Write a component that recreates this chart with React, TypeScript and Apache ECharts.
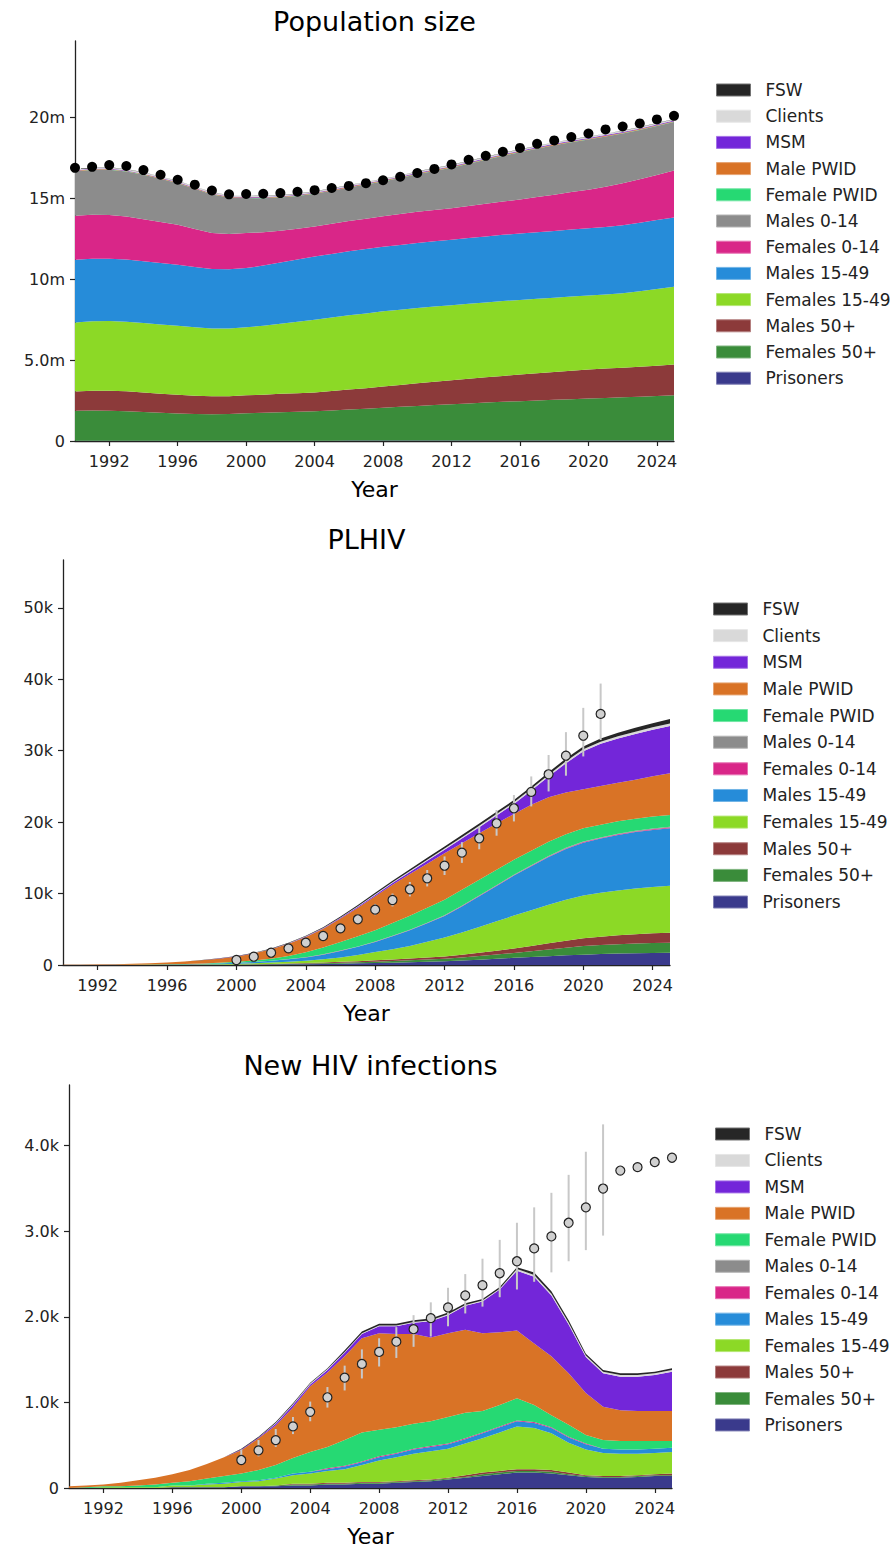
import React, { useEffect, useRef } from "react";
import * as echarts from "echarts";

const FONT = "DejaVu Sans";

const YEARS = [
  1990, 1991, 1992, 1993, 1994, 1995, 1996, 1997, 1998, 1999,
  2000, 2001, 2002, 2003, 2004, 2005, 2006, 2007, 2008, 2009,
  2010, 2011, 2012, 2013, 2014, 2015, 2016, 2017, 2018, 2019,
  2020, 2021, 2022, 2023, 2024, 2025,
];
const X_TICKS = [1992, 1996, 2000, 2004, 2008, 2012, 2016, 2020, 2024];

// stacking order, bottom to top
const GROUPS = [
  "Prisoners", "Females 50+", "Males 50+", "Females 15-49", "Males 15-49",
  "Females 0-14", "Males 0-14", "Female PWID", "Male PWID", "MSM", "Clients", "FSW",
];
const LEGEND_ORDER = [...GROUPS].reverse();
const COLORS: Record<string, string> = {
  FSW: "#262626",
  Clients: "#d9d9d9",
  MSM: "#7326d9",
  "Male PWID": "#d97326",
  "Female PWID": "#26d973",
  "Males 0-14": "#8c8c8c",
  "Females 0-14": "#d92688",
  "Males 15-49": "#268cd9",
  "Females 15-49": "#8cd926",
  "Males 50+": "#8c3a3a",
  "Females 50+": "#3a8c3a",
  Prisoners: "#3a3a8c",
};

// ---------- Population size (millions) ----------
const popPrisoners = [0.02,0.02,0.02,0.02,0.02,0.02,0.02,0.02,0.02,0.02,0.02,0.02,0.02,0.02,0.02,0.02,0.03,0.03,0.03,0.03,0.03,0.03,0.03,0.03,0.03,0.03,0.03,0.03,0.03,0.03,0.03,0.03,0.03,0.03,0.03,0.03];
const popFemales50 = [1.85,1.86,1.85,1.82,1.77,1.72,1.68,1.65,1.63,1.65,1.69,1.72,1.75,1.78,1.81,1.86,1.91,1.96,2.02,2.08,2.13,2.19,2.24,2.29,2.34,2.39,2.43,2.47,2.51,2.55,2.59,2.63,2.67,2.71,2.75,2.8];
const popMales50 = [1.19,1.22,1.24,1.23,1.21,1.18,1.16,1.13,1.11,1.1,1.11,1.12,1.14,1.15,1.17,1.2,1.24,1.27,1.31,1.35,1.4,1.44,1.48,1.52,1.56,1.6,1.64,1.68,1.72,1.76,1.79,1.81,1.83,1.85,1.87,1.89];
const popFemales1549 = [4.26,4.29,4.3,4.3,4.29,4.28,4.26,4.22,4.19,4.18,4.2,4.26,4.33,4.41,4.49,4.54,4.58,4.62,4.65,4.65,4.65,4.64,4.63,4.63,4.62,4.62,4.61,4.6,4.59,4.58,4.57,4.58,4.6,4.66,4.73,4.8];
const popMales1549 = [3.87,3.86,3.84,3.83,3.81,3.79,3.76,3.72,3.67,3.65,3.66,3.71,3.78,3.85,3.91,3.93,3.95,3.97,3.98,4.0,4.02,4.04,4.05,4.06,4.08,4.09,4.1,4.11,4.12,4.14,4.15,4.17,4.2,4.23,4.26,4.28];
const popFemales014 = [2.72,2.72,2.7,2.66,2.6,2.54,2.47,2.35,2.22,2.18,2.16,2.06,1.96,1.89,1.85,1.86,1.87,1.88,1.89,1.9,1.92,1.93,1.95,1.98,2.02,2.06,2.1,2.17,2.24,2.31,2.39,2.48,2.58,2.68,2.79,2.9];
const popMales014 = [2.74,2.77,2.8,2.78,2.74,2.66,2.57,2.48,2.38,2.25,2.16,2.1,2.06,2.03,2.02,2.04,2.07,2.11,2.15,2.23,2.32,2.41,2.5,2.61,2.72,2.83,2.92,2.99,3.05,3.08,3.1,3.1,3.08,3.05,3.02,3.0];
const popFemalePWID = [0.01,0.01,0.01,0.01,0.01,0.01,0.01,0.01,0.01,0.01,0.01,0.01,0.01,0.01,0.01,0.01,0.01,0.01,0.01,0.01,0.01,0.01,0.01,0.01,0.01,0.01,0.01,0.01,0.01,0.01,0.01,0.01,0.01,0.01,0.01,0.01];
const popMalePWID = [0.03,0.03,0.03,0.03,0.03,0.03,0.03,0.03,0.03,0.03,0.03,0.03,0.03,0.03,0.03,0.03,0.04,0.04,0.04,0.04,0.04,0.04,0.04,0.04,0.04,0.04,0.04,0.04,0.04,0.04,0.04,0.04,0.04,0.04,0.04,0.04];
const popMSM = [0.03,0.03,0.03,0.03,0.03,0.03,0.03,0.03,0.03,0.03,0.03,0.03,0.03,0.03,0.03,0.03,0.03,0.03,0.03,0.03,0.04,0.04,0.04,0.04,0.04,0.04,0.04,0.04,0.04,0.04,0.04,0.04,0.04,0.04,0.04,0.04];
const popClients = [0.07,0.07,0.07,0.07,0.07,0.07,0.07,0.07,0.07,0.07,0.07,0.07,0.07,0.07,0.07,0.07,0.07,0.07,0.07,0.07,0.08,0.08,0.08,0.08,0.08,0.08,0.08,0.08,0.08,0.08,0.08,0.08,0.08,0.08,0.08,0.08];
const popFSW = [0.01,0.01,0.01,0.01,0.01,0.01,0.01,0.01,0.01,0.01,0.01,0.01,0.01,0.01,0.01,0.01,0.01,0.01,0.01,0.01,0.01,0.01,0.01,0.01,0.01,0.01,0.01,0.01,0.01,0.01,0.01,0.01,0.01,0.01,0.01,0.01];
const popObserved = [16.87,16.93,17.04,16.98,16.73,16.44,16.13,15.83,15.47,15.23,15.25,15.27,15.31,15.39,15.49,15.62,15.75,15.92,16.1,16.32,16.55,16.8,17.08,17.36,17.61,17.86,18.1,18.35,18.56,18.77,18.99,19.24,19.42,19.61,19.86,20.08];
const POP_TICKS = [0, 5, 10, 15, 20];

// ---------- PLHIV (thousands) ----------
const plhivPrisoners = [0,0,0,0,0.01,0.01,0.01,0.02,0.02,0.03,0.04,0.05,0.07,0.09,0.12,0.15,0.19,0.23,0.28,0.33,0.39,0.45,0.52,0.62,0.74,0.87,1.0,1.12,1.24,1.35,1.45,1.53,1.6,1.65,1.69,1.72];
const plhivFemales50 = [0,0,0,0,0,0,0.01,0.01,0.01,0.01,0.02,0.03,0.04,0.06,0.08,0.1,0.13,0.16,0.19,0.23,0.27,0.31,0.36,0.44,0.52,0.6,0.69,0.81,0.94,1.07,1.2,1.26,1.31,1.35,1.38,1.4];
const plhivMales50 = [0,0,0,0,0,0,0.01,0.01,0.01,0.01,0.02,0.03,0.04,0.06,0.08,0.1,0.12,0.15,0.18,0.21,0.25,0.28,0.32,0.39,0.46,0.54,0.63,0.74,0.85,0.97,1.08,1.16,1.24,1.31,1.36,1.4];
const plhivFemales1549 = [0,0,0,0.01,0.01,0.02,0.02,0.03,0.05,0.07,0.1,0.14,0.19,0.25,0.32,0.45,0.62,0.85,1.17,1.45,1.75,2.2,2.65,3.1,3.6,4.1,4.6,5.0,5.4,5.75,6.0,6.15,6.28,6.4,6.5,6.58];
const plhivMales1549 = [0,0,0.01,0.01,0.01,0.02,0.03,0.04,0.06,0.08,0.12,0.17,0.24,0.34,0.46,0.65,0.9,1.15,1.4,1.8,2.2,2.6,3.0,3.65,4.3,4.95,5.6,6.15,6.7,7.1,7.4,7.6,7.78,7.9,7.98,8.04];
const plhivFemales014 = [0,0,0,0,0,0,0,0,0.01,0.01,0.01,0.01,0.01,0.02,0.02,0.02,0.03,0.03,0.03,0.04,0.04,0.04,0.05,0.05,0.06,0.06,0.06,0.07,0.07,0.08,0.08,0.08,0.09,0.09,0.1,0.1];
const plhivMales014 = [0,0,0,0,0,0,0,0,0.01,0.01,0.01,0.01,0.01,0.02,0.02,0.02,0.03,0.03,0.03,0.04,0.04,0.04,0.05,0.05,0.06,0.06,0.06,0.07,0.07,0.08,0.08,0.08,0.09,0.09,0.1,0.1];
const plhivFemalePWID = [0,0,0,0,0.01,0.01,0.02,0.03,0.05,0.08,0.13,0.19,0.28,0.42,0.7,0.95,1.2,1.42,1.6,1.78,1.95,2.1,2.2,2.22,2.2,2.15,2.1,2.04,1.97,1.9,1.84,1.78,1.74,1.7,1.68,1.66];
const plhivMalePWID = [0.02,0.04,0.06,0.09,0.13,0.19,0.25,0.34,0.43,0.59,0.74,0.99,1.32,1.7,2.12,2.63,3.28,3.99,4.73,5.34,5.84,6.17,6.5,6.54,6.5,6.49,6.41,6.42,6.25,5.85,5.49,5.42,5.38,5.45,5.64,5.84];
const plhivMSM = [0,0,0,0,0,0,0,0.01,0.01,0.01,0.02,0.02,0.03,0.04,0.06,0.08,0.11,0.15,0.2,0.25,0.3,0.4,0.5,0.65,0.85,1.1,1.4,2.0,2.9,4.1,5.3,5.9,6.2,6.4,6.5,6.63];
const plhivClients = [0,0,0,0,0,0,0,0,0.01,0.01,0.01,0.02,0.02,0.03,0.03,0.04,0.05,0.07,0.09,0.11,0.13,0.15,0.17,0.19,0.2,0.21,0.22,0.24,0.25,0.27,0.28,0.3,0.31,0.33,0.34,0.35];
const plhivFSW = [0,0,0,0,0,0,0.01,0.01,0.02,0.02,0.03,0.04,0.05,0.07,0.09,0.11,0.14,0.17,0.2,0.22,0.24,0.26,0.28,0.3,0.31,0.32,0.33,0.34,0.36,0.38,0.4,0.44,0.48,0.53,0.58,0.63];
const plhivDataYears = [2000,2001,2002,2003,2004,2005,2006,2007,2008,2009,2010,2011,2012,2013,2014,2015,2016,2017,2018,2019,2020,2021];
const plhivObserved = [0.7,1.16,1.72,2.33,3.13,4.06,5.13,6.4,7.75,9.1,10.6,12.14,13.9,15.73,17.74,19.84,21.94,24.23,26.7,29.3,32.1,35.15];
const plhivLow = [0.6,1.0,1.5,2.05,2.78,3.62,4.6,5.75,6.98,8.2,9.6,11.0,12.6,14.3,16.2,18.1,20.1,22.2,24.3,26.5,29.2,31.5];
const plhivHigh = [0.8,1.32,1.95,2.62,3.5,4.52,5.7,7.08,8.55,10.0,11.62,13.3,15.2,17.2,19.35,21.7,23.8,26.4,29.4,32.6,36.0,39.4];
const PLHIV_TICKS = [0, 10, 20, 30, 40, 50];

// ---------- New HIV infections (thousands) ----------
const infPrisoners = [0,0,0,0,0,0,0.01,0.01,0.01,0.01,0.02,0.02,0.02,0.03,0.03,0.04,0.04,0.05,0.05,0.06,0.07,0.08,0.1,0.12,0.14,0.16,0.18,0.18,0.17,0.15,0.13,0.12,0.12,0.13,0.14,0.14];
const infFemales50 = [0,0,0,0,0,0,0,0,0,0,0,0,0.01,0.01,0.01,0.01,0.01,0.01,0.01,0.01,0.01,0.01,0.01,0.01,0.02,0.02,0.02,0.02,0.02,0.01,0.01,0.01,0.01,0.01,0.01,0.01];
const infMales50 = [0,0,0,0,0,0,0,0,0,0,0,0,0,0.01,0.01,0.01,0.01,0.01,0.01,0.01,0.01,0.01,0.01,0.02,0.02,0.02,0.02,0.02,0.02,0.02,0.01,0.01,0.01,0.01,0.01,0.02];
const infFemales1549 = [0,0,0.01,0.01,0.01,0.01,0.02,0.02,0.03,0.04,0.05,0.06,0.08,0.1,0.12,0.14,0.16,0.2,0.25,0.28,0.31,0.33,0.34,0.37,0.4,0.45,0.5,0.48,0.43,0.35,0.3,0.27,0.26,0.25,0.25,0.25];
const infMales1549 = [0,0,0,0,0,0,0,0,0.01,0.01,0.01,0.01,0.01,0.02,0.02,0.02,0.03,0.03,0.04,0.04,0.05,0.05,0.05,0.05,0.06,0.06,0.06,0.06,0.06,0.06,0.06,0.05,0.05,0.05,0.05,0.05];
const infFemales014 = [0,0,0,0,0,0,0,0,0,0,0,0,0,0,0,0.01,0.01,0.01,0.01,0.01,0.01,0.01,0.01,0.01,0.01,0.01,0.01,0.01,0.01,0.01,0.01,0,0,0,0,0];
const infMales014 = [0,0,0,0,0,0,0,0,0,0,0,0,0,0,0,0,0,0,0,0,0,0,0,0,0,0,0,0,0,0,0,0,0,0,0,0];
const infFemalePWID = [0,0.01,0.01,0.01,0.02,0.03,0.03,0.05,0.06,0.08,0.09,0.12,0.15,0.18,0.23,0.25,0.3,0.34,0.31,0.3,0.29,0.29,0.31,0.3,0.25,0.25,0.26,0.2,0.14,0.14,0.1,0.1,0.1,0.1,0.09,0.08];
const infMalePWID = [0.02,0.02,0.02,0.04,0.06,0.08,0.1,0.13,0.17,0.22,0.27,0.37,0.46,0.59,0.77,0.87,0.98,1.1,1.13,1.09,1.05,0.98,0.98,0.97,0.91,0.85,0.79,0.72,0.69,0.6,0.49,0.39,0.36,0.35,0.35,0.35];
const infMSM = [0,0,0,0,0,0,0,0,0,0,0.01,0.01,0.02,0.03,0.02,0.03,0.04,0.05,0.08,0.09,0.13,0.19,0.21,0.28,0.37,0.5,0.7,0.78,0.71,0.57,0.42,0.39,0.39,0.4,0.42,0.46];
const infClients = [0,0,0,0,0,0,0,0,0,0,0,0,0.01,0.01,0.01,0.01,0.01,0.01,0.01,0.01,0.01,0.01,0.01,0.01,0.01,0.01,0.02,0.02,0.02,0.02,0.02,0.02,0.02,0.02,0.02,0.02];
const infFSW = [0,0,0,0,0,0,0,0,0,0,0.01,0.01,0.01,0.01,0.01,0.01,0.02,0.02,0.02,0.02,0.02,0.02,0.02,0.02,0.02,0.02,0.02,0.03,0.03,0.03,0.02,0.02,0.02,0.02,0.02,0.02];
const infDataYears = [2000,2001,2002,2003,2004,2005,2006,2007,2008,2009,2010,2011,2012,2013,2014,2015,2016,2017,2018,2019,2020,2021,2022,2023,2024,2025];
const infObserved = [0.327,0.44,0.56,0.72,0.89,1.06,1.29,1.45,1.59,1.71,1.856,1.985,2.11,2.25,2.37,2.51,2.65,2.8,2.94,3.1,3.28,3.5,3.71,3.75,3.81,3.86];
const infBarYears = [2000,2001,2002,2003,2004,2005,2006,2007,2008,2009,2010,2011,2012,2013,2014,2015,2016,2017,2018,2019,2020,2021];
const infLow = [0.27,0.37,0.48,0.63,0.78,0.94,1.14,1.28,1.42,1.52,1.65,1.77,1.89,2.04,2.12,2.23,2.32,2.41,2.52,2.65,2.78,2.95];
const infHigh = [0.45,0.56,0.69,0.83,1.01,1.18,1.43,1.62,1.75,1.88,2.02,2.17,2.34,2.5,2.68,2.9,3.1,3.28,3.45,3.66,3.93,4.25];
const INF_TICKS = [0, 1, 2, 3, 4];

const POP_STACK = [popPrisoners, popFemales50, popMales50, popFemales1549, popMales1549, popFemales014, popMales014, popFemalePWID, popMalePWID, popMSM, popClients, popFSW];
const PLHIV_STACK = [plhivPrisoners, plhivFemales50, plhivMales50, plhivFemales1549, plhivMales1549, plhivFemales014, plhivMales014, plhivFemalePWID, plhivMalePWID, plhivMSM, plhivClients, plhivFSW];
const INF_STACK = [infPrisoners, infFemales50, infMales50, infFemales1549, infMales1549, infFemales014, infMales014, infFemalePWID, infMalePWID, infMSM, infClients, infFSW];

const CATS = YEARS.map(String);

function tint(hex: string, f: number) {
  const n = parseInt(hex.slice(1), 16);
  const r = (n >> 16) & 255, g = (n >> 8) & 255, b = n & 255;
  const m = (c: number) => Math.round(c + (255 - c) * f);
  return `rgb(${m(r)},${m(g)},${m(b)})`;
}

function areaSeries(panel: number, stackId: string, values: number[][]) {
  return GROUPS.map((g, k) => ({
    name: g,
    type: "line",
    xAxisIndex: panel,
    yAxisIndex: panel,
    stack: stackId,
    data: values[k],
    showSymbol: false,
    symbol: "none",
    smooth: false,
    color: COLORS[g],
    lineStyle: { width: 0, color: COLORS[g] },
    itemStyle: { color: COLORS[g] },
    areaStyle: { color: COLORS[g], opacity: 1 },
    emphasis: { disabled: true },
    silent: true,
    z: 2,
  }));
}

function errorBars(panel: number, years: number[], lo: number[], hi: number[]) {
  return {
    type: "custom",
    name: "err" + panel,
    xAxisIndex: panel,
    yAxisIndex: panel,
    z: 3,
    silent: true,
    clip: false,
    data: years.map((y, i) => [String(y), lo[i], hi[i]]),
    encode: { x: 0, y: [1, 2] },
    renderItem: (_params: any, api: any) => {
      const a = api.coord([api.value(0), api.value(1)]);
      const b = api.coord([api.value(0), api.value(2)]);
      return {
        type: "line",
        shape: { x1: a[0], y1: a[1], x2: b[0], y2: b[1] },
        style: { stroke: "#c8c8c8", lineWidth: 2 },
      };
    },
  };
}

function points(panel: number, years: number[], vals: number[], filled: boolean) {
  return {
    type: "scatter",
    name: "data" + panel,
    xAxisIndex: panel,
    yAxisIndex: panel,
    z: 4,
    silent: true,
    clip: false,
    symbolSize: filled ? 10 : 9,
    itemStyle: filled
      ? { color: "#000000", opacity: 1 }
      : { color: "#d0d0d0", borderColor: "#222222", borderWidth: 1.2, opacity: 1 },
    data: years.map((y, i) => [String(y), vals[i]]),
  };
}

const GRIDS = [
  { left: 75, top: 41, width: 599, height: 400 },
  { left: 63, top: 560, width: 607, height: 405 },
  { left: 69, top: 1085, width: 603, height: 403 },
];
const TITLES = [
  { text: "Population size", top: 8 },
  { text: "PLHIV", top: 526 },
  { text: "New HIV infections", top: 1052 },
];
const LEGEND_POS = [
  { left: 716, top: 80, gap: 6.2 },
  { left: 713, top: 599, gap: 6.64 },
  { left: 715, top: 1124, gap: 6.45 },
];

const isTick = (_i: number, v: string) => X_TICKS.includes(Number(v));

function xAxis(panel: number) {
  return {
    type: "category",
    gridIndex: panel,
    data: CATS,
    boundaryGap: false,
    name: "Year",
    nameLocation: "middle",
    nameGap: 37,
    nameTextStyle: { fontSize: 22, color: "#000", fontFamily: FONT },
    axisLine: { show: true, onZero: false, lineStyle: { color: "#222", width: 1.3 } },
    axisTick: { show: true, length: 5, interval: isTick, lineStyle: { color: "#222", width: 1.2 } },
    axisLabel: {
      fontSize: 16,
      color: "#222",
      fontFamily: FONT,
      margin: 12,
      interval: isTick,
    },
    splitLine: { show: false },
  };
}

function yAxis(panel: number, max: number, ticks: number[], fmt: (v: number) => string) {
  return {
    type: "value",
    gridIndex: panel,
    min: 0,
    max,
    axisLine: { show: true, lineStyle: { color: "#222", width: 1.3 } },
    axisTick: { show: true, length: 5, lineStyle: { color: "#222", width: 1.2 }, customValues: ticks },
    axisLabel: {
      fontSize: 16,
      color: "#222",
      fontFamily: FONT,
      margin: 10,
      customValues: ticks,
      formatter: fmt,
    },
    splitLine: { show: false },
  };
}

export default function App() {
  const ref = useRef<HTMLDivElement>(null);

  useEffect(() => {
    if (!ref.current) return;
    const chart = echarts.init(ref.current, undefined, { renderer: "svg" });

    const option: any = {
      animation: false,
      backgroundColor: "#ffffff",
      textStyle: { fontFamily: FONT },
      title: TITLES.map((t, i) => ({
        text: t.text,
        left: GRIDS[i].left + GRIDS[i].width / 2,
        top: t.top,
        textAlign: "center",
        padding: 0,
        textStyle: { fontSize: 27, fontWeight: "normal", color: "#000", fontFamily: FONT },
      })),
      legend: LEGEND_POS.map((p) => ({
        orient: "vertical",
        left: p.left,
        top: p.top,
        padding: 0,
        icon: "rect",
        itemWidth: 34,
        itemHeight: 12,
        itemGap: p.gap,
        selectedMode: false,
        textStyle: { fontSize: 17, color: "#222", fontFamily: FONT, lineHeight: 20, padding: [0, 0, 0, 10] },
        data: LEGEND_ORDER.map((n) => ({
          name: n,
          itemStyle: { color: COLORS[n], borderColor: tint(COLORS[n], 0.35), borderWidth: 1 },
        })),
      })),
      grid: GRIDS.map((g) => ({ ...g, containLabel: false, outerBoundsMode: "none" })),
      xAxis: [xAxis(0), xAxis(1), xAxis(2)],
      yAxis: [
        yAxis(0, 24.7, POP_TICKS, (v) => (v === 0 ? "0" : v < 10 ? v.toFixed(1) + "m" : v + "m")),
        yAxis(1, 56.7, PLHIV_TICKS, (v) => (v === 0 ? "0" : v + "k")),
        yAxis(2, 4.71, INF_TICKS, (v) => (v === 0 ? "0" : v.toFixed(1) + "k")),
      ],
      series: [
        ...areaSeries(0, "pop", POP_STACK),
        points(0, YEARS, popObserved, true),
        ...areaSeries(1, "plhiv", PLHIV_STACK),
        errorBars(1, plhivDataYears, plhivLow, plhivHigh),
        points(1, plhivDataYears, plhivObserved, false),
        ...areaSeries(2, "inf", INF_STACK),
        errorBars(2, infBarYears, infLow, infHigh),
        points(2, infDataYears, infObserved, false),
      ],
    };

    chart.setOption(option);
    return () => chart.dispose();
  }, []);

  return (
    <div
      ref={ref}
      style={{ position: "absolute", left: 0, top: 0, width: 892, height: 1549, background: "#fff" }}
    />
  );
}
